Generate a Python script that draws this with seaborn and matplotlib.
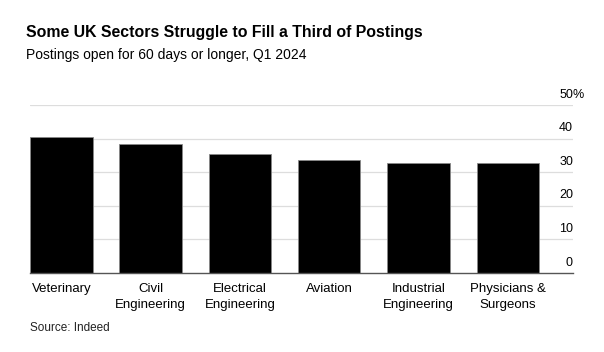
import matplotlib
matplotlib.use("Agg")
import matplotlib.pyplot as plt
import seaborn as sns
import pandas as pd

categories = ["Veterinary", "Civil\nEngineering", "Electrical\nEngineering", "Aviation",
              "Industrial\nEngineering", "Physicians &\nSurgeons"]
values = [40.5, 38.4, 35.4, 33.7, 32.8, 32.7]
y_ticks = [0, 10, 20, 30, 40, 50]

sns.set_theme(style="white")
plt.rcParams['font.family'] = ['Liberation Sans', 'DejaVu Sans']

df = pd.DataFrame({"cat": categories, "val": values})

fig = plt.figure(figsize=(6.04, 3.52), dpi=100)
ax = fig.add_axes([30/604, 1-273/352, (573-30)/604, (273-105)/352])

sns.barplot(data=df, x="cat", y="val", color="black", width=0.7, ax=ax,
            edgecolor="#888888", linewidth=0.6, saturation=1, zorder=3)

ax.set_ylim(0, 50)
ax.set_xlim(-0.35, 5.73)
ax.set_xlabel("")
ax.set_ylabel("")
ax.set_yticks(y_ticks)
ax.set_yticklabels([])
ax.tick_params(axis="y", length=0)
ax.tick_params(axis="x", length=0, pad=7, labelsize=9.5, colors="black")
for lab in ax.get_xticklabels():
    lab.set_linespacing(1.5)
    lab.set_verticalalignment("top")

for s in ["left", "right", "top"]:
    ax.spines[s].set_visible(False)
ax.spines["bottom"].set_color("#555555")
ax.spines["bottom"].set_linewidth(1.0)
ax.spines["bottom"].set_zorder(4)

for t in y_ticks[1:]:
    ax.axhline(t, color="#dddddd", linewidth=0.9, zorder=1)

for t in y_ticks:
    ax.text(1.0, t + 1.3, str(t), transform=ax.get_yaxis_transform(),
            ha="right", va="bottom", fontsize=9, color="black", clip_on=False)
ax.text(0.9985, y_ticks[-1] + 1.3, "%", transform=ax.get_yaxis_transform(),
        ha="left", va="bottom", fontsize=9, color="black", clip_on=False)

fig.text(26/604, 1-32/352, "Some UK Sectors Struggle to Fill a Third of Postings",
         fontsize=11.4, fontweight="bold", ha="left", va="center", color="black")
fig.text(26/604, 1-55/352, "Postings open for 60 days or longer, Q1 2024",
         fontsize=10, ha="left", va="center", color="black")
fig.text(30/604, 1-328/352, "Source: Indeed", fontsize=8.5, ha="left", va="center",
         color="#222222")

fig.savefig("out.png", dpi=100)
